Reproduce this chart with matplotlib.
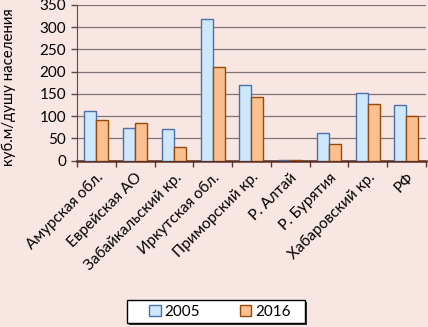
import numpy as np
import matplotlib
matplotlib.use("Agg")
import matplotlib.pyplot as plt
from matplotlib.patches import Rectangle

plt.rcParams["font.family"] = ["Lato", "DejaVu Sans"]

regions = [
    "Амурская обл.",
    "Еврейская АО",
    "Забайкальский кр.",
    "Иркутская обл.",
    "Приморский кр.",
    "Р. Алтай",
    "Р. Бурятия",
    "Хабаровский кр.",
    "РФ",
]
vals_2005 = [112, 74, 72, 318, 170, 1.5, 63, 151, 124]
vals_2016 = [91, 85, 31, 211, 142, 1, 37, 128, 100]
yticks = [0, 50, 100, 150, 200, 250, 300, 350]

bg = "#f8e6e3"

fig = plt.figure(figsize=(4.28, 3.27), dpi=100)
fig.patch.set_facecolor(bg)
ax = fig.add_axes([0.18, 0.509, 0.815, 0.476])
ax.set_facecolor(bg)

x = np.arange(len(regions))
w = 0.31
ax.bar(x - w / 2, vals_2005, w, color="#cce8fa", edgecolor="#4f6fa8",
       linewidth=1.0, label="2005", zorder=3)
ax.bar(x + w / 2, vals_2016, w, color="#fac090", edgecolor="#984807",
       linewidth=1.0, label="2016", zorder=3)

ax.set_xlim(-0.5, len(regions) - 0.5)
ax.set_ylim(0, 350)
ax.set_yticks(yticks)
ax.yaxis.grid(True, color="#7f7575", linewidth=0.9, zorder=0)
ax.set_axisbelow(True)

# boundary ticks on major, labels on minor
ax.set_xticks(np.arange(len(regions) + 1) - 0.5, minor=False)
ax.set_xticklabels([])
ax.set_xticks(x, minor=True)
ax.set_xticklabels(regions, minor=True, rotation=45, ha="right",
                   rotation_mode="anchor", fontsize=11)
ax.tick_params(axis="x", which="minor", length=0, pad=7)
ax.tick_params(axis="x", which="major", length=4, width=1, color="#5a3a30")
ax.tick_params(axis="y", length=4, width=1, color="#5a4a45",
               labelsize=11, pad=4)

for s in ["top", "right"]:
    ax.spines[s].set_visible(False)
ax.spines["left"].set_color("#5a4a45")
ax.spines["bottom"].set_color("#5a3025")
ax.spines["bottom"].set_linewidth(1.8)

fig.text(0.021, 1 - 166 / 327, "куб.м/душу населения", rotation=90,
         ha="center", va="bottom", fontsize=10.8)

# legend box with a small shadow
fig.patches.append(Rectangle((129 / 428, 1 - 325 / 327), 178 / 428, 23 / 327,
                             transform=fig.transFigure, facecolor="#333333",
                             edgecolor="none", zorder=1))
fig.patches.append(Rectangle((127 / 428, 1 - 323 / 327), 178 / 428, 23 / 327,
                             transform=fig.transFigure, facecolor="white",
                             edgecolor="black", linewidth=1, zorder=2))
leg = fig.legend(loc="center", bbox_to_anchor=(220 / 428, 1 - 311.5 / 327),
                 ncol=2, fontsize=11, frameon=False,
                 handlelength=0.75, handleheight=0.75, handletextpad=0.25,
                 columnspacing=2.6, borderpad=0.2)
leg.set_zorder(3)

fig.savefig("out.png", dpi=100, facecolor=bg)
